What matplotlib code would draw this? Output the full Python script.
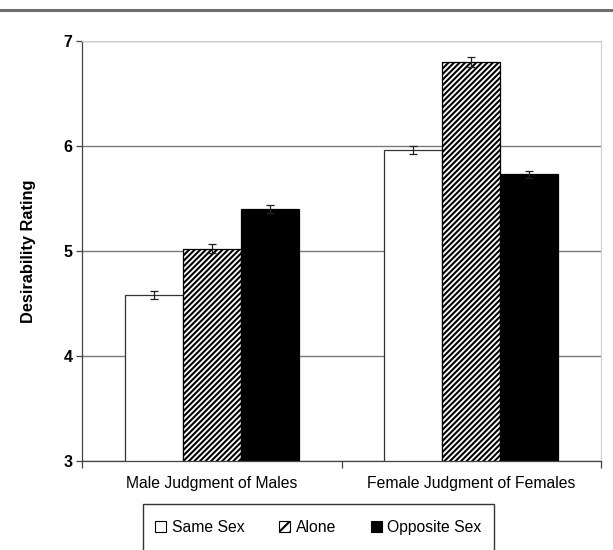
import matplotlib
matplotlib.use('Agg')
import matplotlib.pyplot as plt
import numpy as np
from matplotlib.patches import Patch, Rectangle

plt.rcParams['font.family'] = ['Liberation Sans', 'DejaVu Sans']
plt.rcParams['hatch.linewidth'] = 1.5

categories = ['Male Judgment of Males', 'Female Judgment of Females']
conditions = ['Same Sex', 'Alone', 'Opposite Sex']
same_sex = [4.58, 5.96]
alone = [5.02, 6.80]
opposite_sex = [5.40, 5.73]
same_sex_err = [0.04, 0.04]
alone_err = [0.043, 0.044]
opposite_sex_err = [0.038, 0.035]

fig = plt.figure(figsize=(6.13, 5.5), dpi=100)
ax = fig.add_axes([0.1338, 0.1618, 0.8467, 0.7636])

# thin rule across the top of the figure
fig.add_artist(plt.Line2D([0, 1], [1 - 10 / 550, 1 - 10 / 550], color='#6e6e6e', lw=2.2,
                          transform=fig.transFigure))

x = np.arange(len(categories))
w = 0.2235
err_kw = dict(ecolor='#222222', elinewidth=0.9, capsize=3, capthick=0.9)
ax.bar(x - w, same_sex, w, yerr=same_sex_err, color='white',
       edgecolor='#333333', linewidth=0.9, error_kw=err_kw, zorder=2)
ax.bar(x, alone, w, yerr=alone_err, color='white', edgecolor='black',
       hatch='//////', linewidth=0.9, error_kw=err_kw, zorder=2)
ax.bar(x + w, opposite_sex, w, yerr=opposite_sex_err, color='black',
       edgecolor='black', linewidth=0.9, error_kw=err_kw, zorder=2)

ax.set_ylim(3, 7)
ax.set_xlim(-0.5, 1.5)
ax.set_yticks([3, 4, 5, 6, 7])
ax.set_yticklabels(['3', '4', '5', '6', '7'], fontweight='bold', fontsize=11.5)
ax.yaxis.grid(True, color='#7a7a7a', lw=1)
ax.set_axisbelow(True)

ax.set_xticks(x)
ax.set_xticklabels(categories, fontsize=11.3)
ax.set_xticks([-0.5, 0.5, 1.5], minor=True)
ax.tick_params(axis='x', which='major', length=0, pad=11)
ax.tick_params(axis='x', which='minor', length=5, color='#444444', width=0.9)
ax.tick_params(axis='y', length=4, color='#444444', width=0.9, pad=3)

for s in ['top', 'right']:
    ax.spines[s].set_color('#cfcfcf')
for s in ['left', 'bottom']:
    ax.spines[s].set_color('#444444')
    ax.spines[s].set_linewidth(0.9)

ax.set_ylabel('Desirability Rating', fontweight='bold', fontsize=11.8, labelpad=20)

handles = [Patch(facecolor='white', edgecolor='black', lw=0.8),
           Patch(facecolor='white', edgecolor='black', hatch='///', lw=0.8),
           Patch(facecolor='black', edgecolor='black', lw=0.8)]
leg = fig.legend(handles, conditions, ncol=3, loc='upper left',
                 bbox_to_anchor=(143 / 613, 1 - 508 / 550), frameon=False,
                 fontsize=11.3, handlelength=0.72, handleheight=0.72,
                 handletextpad=0.35, columnspacing=2.2, borderpad=0.76,
                 borderaxespad=0)

# legend frame runs past the bottom edge of the figure
fig.add_artist(Rectangle((143 / 613, -0.05), (494 - 143) / 613, 0.05 + 1 - 504 / 550,
                         transform=fig.transFigure, fill=False,
                         edgecolor='#333333', lw=1.0))

fig.savefig('out.png', dpi=100)
